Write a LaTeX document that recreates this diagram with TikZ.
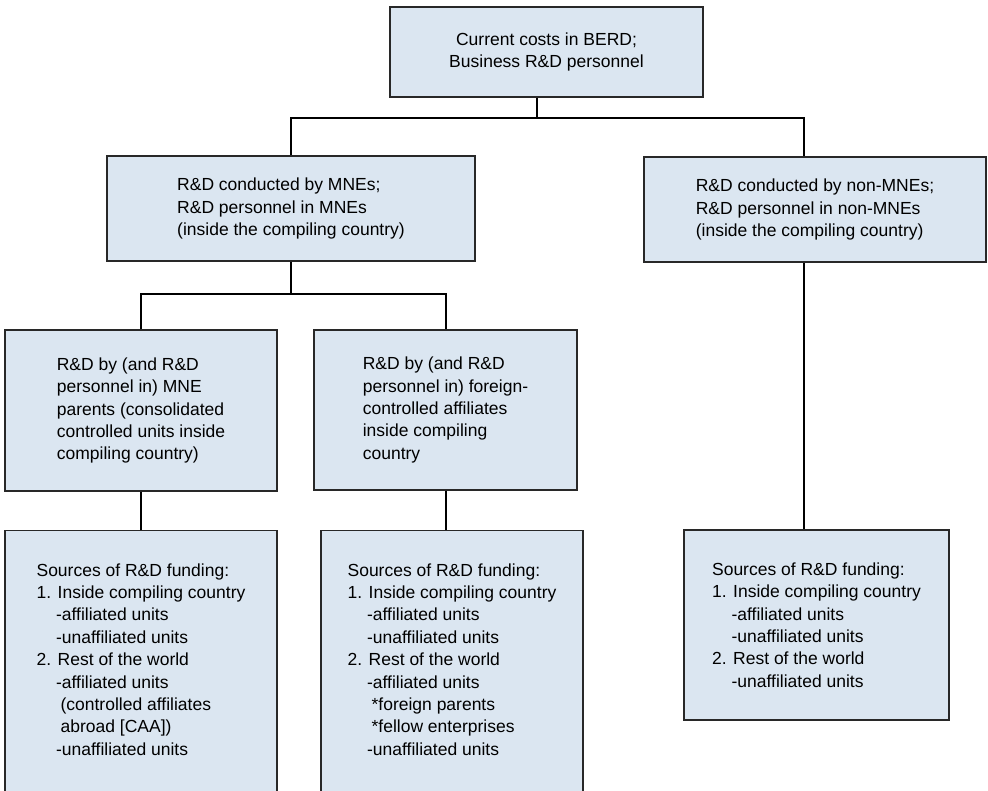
\documentclass[tikz,border=0pt]{standalone}
\usepackage{fontspec}
\setmainfont{Liberation Sans}
\usetikzlibrary{positioning}
\definecolor{boxfill}{RGB}{219,230,241}
\definecolor{boxline}{RGB}{40,40,40}
\newcommand{\ia}{\hspace*{19.5pt}}
\newcommand{\ib}{\hspace*{24pt}}
\tikzset{
  box/.style={draw=boxline, line width=1.1pt, fill=boxfill, rectangle, align=left,
    inner sep=0pt, font=\fontsize{17.5pt}{22.4pt}\selectfont},
  conn/.style={draw=black, line width=1.2pt}
}
\begin{document}
\begin{tikzpicture}[x=1pt,y=-1pt]
\useasboundingbox (0,0) rectangle (988,790);
\fill[white] (0,0) rectangle (988,790);

\node[box, align=center, minimum width=313pt, minimum height=90pt] (top) at (546.5,52)
  {Current costs in BERD;\\Business R\&D personnel};
\node[box, minimum width=368pt, minimum height=105pt] (mne) at (291,208.5)
  {R\&D conducted by MNEs;\\R\&D personnel in MNEs\\(inside the compiling country)};
\node[box, minimum width=342pt, minimum height=105pt] (nonmne) at (815,209.5)
  {R\&D conducted by non-MNEs;\\R\&D personnel in non-MNEs\\(inside the compiling country)};
\node[box, minimum width=272pt, minimum height=161pt] (mpar) at (141,410.5)
  {R\&D by (and R\&D\\personnel in) MNE\\parents (consolidated\\controlled units inside\\compiling country)};
\node[box, minimum width=263pt, minimum height=160pt] (fca) at (445.5,410)
  {R\&D by (and R\&D\\personnel in) foreign-\\controlled affiliates\\inside compiling\\country};
\node[box, anchor=north, minimum width=272pt, minimum height=360pt] (lsrc) at (141,530)
  {Sources of R\&D funding:\\1. Inside compiling country\\\ia-affiliated units\\\ia-unaffiliated units\\2. Rest of the world\\\ia-affiliated units\\\ib(controlled affiliates\\\ib abroad [CAA])\\\ia-unaffiliated units\\[80pt]\mbox{}};
\node[box, anchor=north, minimum width=262pt, minimum height=360pt] (fsrc) at (452,530)
  {Sources of R\&D funding:\\1. Inside compiling country\\\ia-affiliated units\\\ia-unaffiliated units\\2. Rest of the world\\\ia-affiliated units\\\ib*foreign parents\\\ib*fellow enterprises\\\ia-unaffiliated units\\[80pt]\mbox{}};
\node[box, minimum width=265pt, minimum height=190pt] (nsrc) at (816.5,625)
  {Sources of R\&D funding:\\1. Inside compiling country\\\ia-affiliated units\\\ia-unaffiliated units\\2. Rest of the world\\\ia-unaffiliated units};

\coordinate (bus1) at (0,118);
\coordinate (bus2) at (0,294);
\draw[conn] ([xshift=-9.5pt]top.south) -- ([xshift=-9.5pt]top.south |- bus1);
\draw[conn] (mne.north) -- (mne.north |- bus1) -| ([xshift=-11pt]nonmne.north);
\draw[conn] (mne.south) -- (mne.south |- bus2);
\draw[conn] (mpar.north) -- (mpar.north |- bus2) -| ([xshift=0.5pt]fca.north);
\draw[conn] (mpar.south) -- (lsrc.north);
\draw[conn] ([xshift=0.5pt]fca.south) -- ([xshift=0.5pt]fca.south |- fsrc.north);
\draw[conn] ([xshift=-11pt]nonmne.south) -- ([xshift=-11pt]nonmne.south |- nsrc.north);
\end{tikzpicture}
\end{document}
